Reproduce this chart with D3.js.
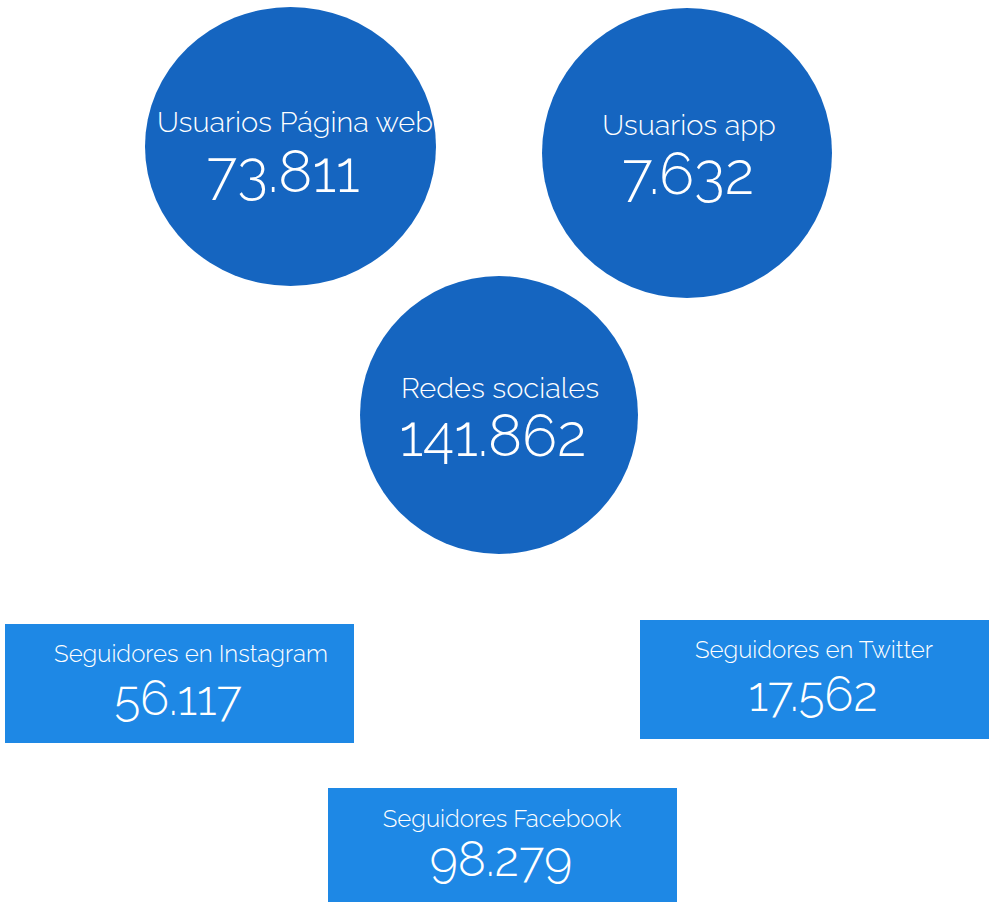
<!DOCTYPE html>
<html>
<head>
<meta charset="utf-8">
<script src="https://cdn.jsdelivr.net/npm/d3@7"></script>
<style>
  body { margin: 0; background: #fff; }
  text { font-family: Raleway, Lato, "Open Sans", sans-serif; font-weight: 300; fill: #fff; }
</style>
</head>
<body>
<div id="container"></div>
<script>
/* DATA */
const circleLabels = ["Usuarios Página web", "Usuarios app", "Redes sociales"];
const circleValues = [73811, 7632, 141862];
const boxLabels = ["Seguidores en Instagram", "Seguidores en Twitter", "Seguidores Facebook"];
const boxValues = [56117, 17562, 98279];

/* LAYOUT */
const width = 989;
const height = 902;
const circleLayout = [
  { cx: 290.5, cy: 146.5, rx: 145.5, ry: 139.5, lx: 295, ly: 132, vx: 283, vy: 192 },
  { cx: 687, cy: 153, rx: 145, ry: 145, lx: 689, ly: 135, vx: 688, vy: 194 },
  { cx: 499, cy: 415, rx: 139, ry: 139, lx: 500, ly: 398, vx: 493, vy: 456 }
];
const boxLayout = [
  { x: 5, y: 624, w: 349, h: 119, lx: 191, ly: 662, vx: 178, vy: 715 },
  { x: 640, y: 620, w: 349, h: 119, lx: 814, ly: 658, vx: 813, vy: 711 },
  { x: 328, y: 788, w: 349, h: 114, lx: 502, ly: 827, vx: 501, vy: 876 }
];

// spanish number format: 73.811
const fmt = d3.formatLocale({ decimal: ",", thousands: ".", grouping: [3], currency: ["", "€"] }).format(",d");

const circles = circleLabels.map((d, i) => ({ label: d, value: circleValues[i], ...circleLayout[i] }));
const boxes = boxLabels.map((d, i) => ({ label: d, value: boxValues[i], ...boxLayout[i] }));

const svg = d3.select("#container")
  .append("svg")
  .attr("width", width)
  .attr("height", height);

// circles
const cg = svg.selectAll("g.circle")
  .data(circles)
  .join("g")
  .attr("class", "circle");

cg.append("ellipse")
  .attr("cx", d => d.cx)
  .attr("cy", d => d.cy)
  .attr("rx", d => d.rx)
  .attr("ry", d => d.ry)
  .attr("fill", "#1565c0");

cg.append("text")
  .attr("x", d => d.lx)
  .attr("y", d => d.ly)
  .attr("text-anchor", "middle")
  .style("font-size", "29px")
  .text(d => d.label);

cg.append("text")
  .attr("x", d => d.vx)
  .attr("y", d => d.vy)
  .attr("text-anchor", "middle")
  .style("font-size", "58px")
  .text(d => fmt(d.value));

// boxes
const bg = svg.selectAll("g.box")
  .data(boxes)
  .join("g")
  .attr("class", "box");

bg.append("rect")
  .attr("x", d => d.x)
  .attr("y", d => d.y)
  .attr("width", d => d.w)
  .attr("height", d => d.h)
  .attr("fill", "#1e88e5");

bg.append("text")
  .attr("x", d => d.lx)
  .attr("y", d => d.ly)
  .attr("text-anchor", "middle")
  .style("font-size", "24px")
  .text(d => d.label);

bg.append("text")
  .attr("x", d => d.vx)
  .attr("y", d => d.vy)
  .attr("text-anchor", "middle")
  .style("font-size", "48px")
  .text(d => fmt(d.value));
</script>
</body>
</html>
